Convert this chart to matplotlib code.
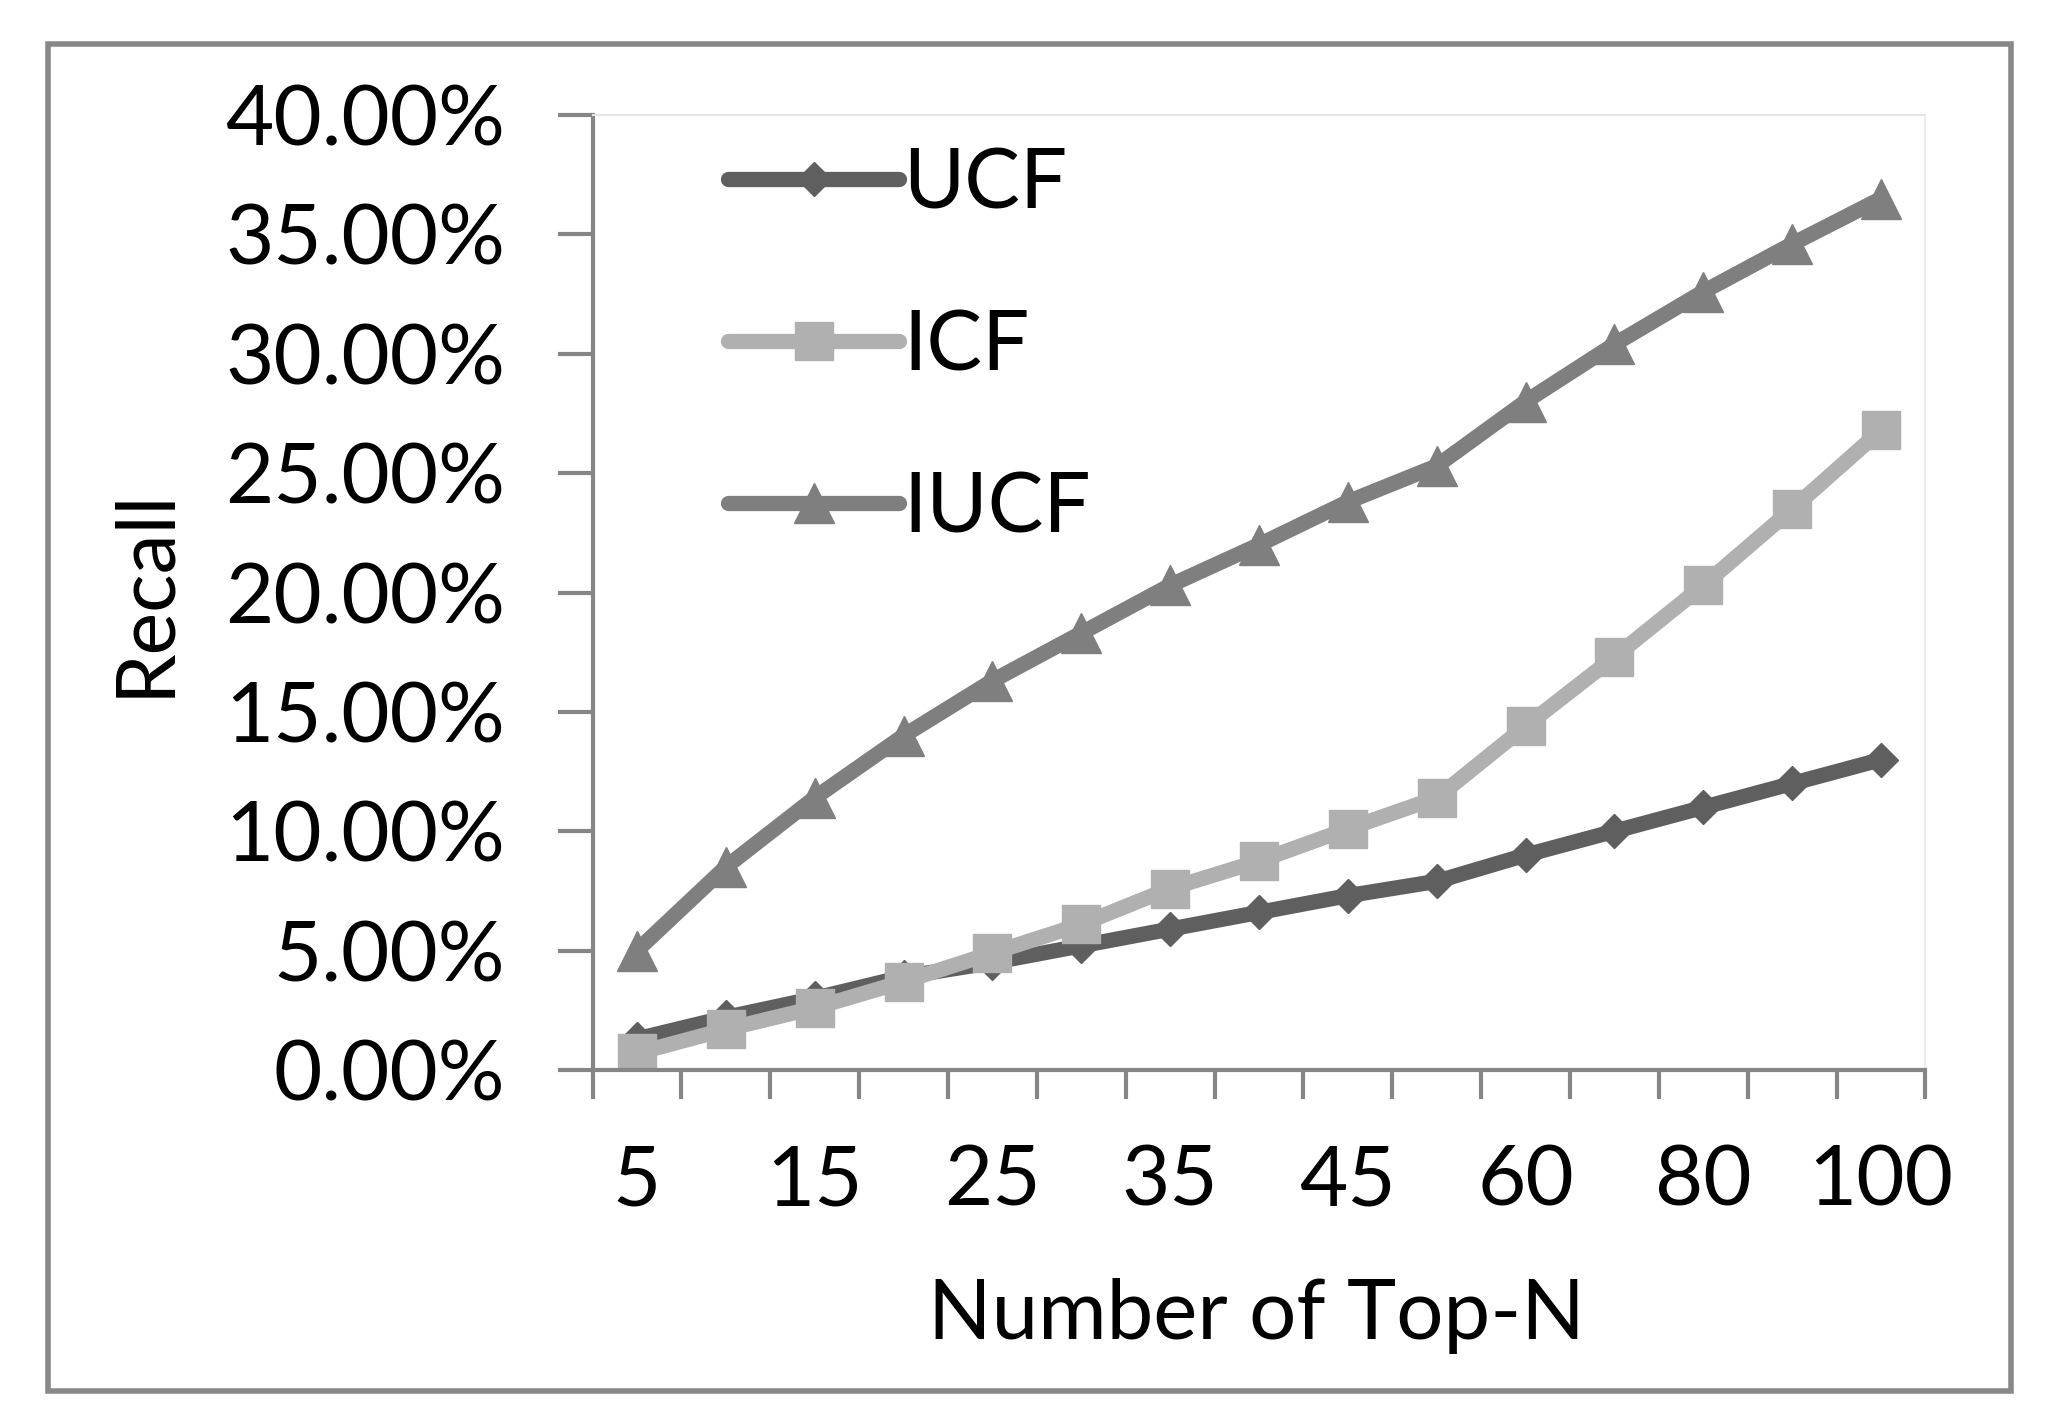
import matplotlib
matplotlib.use("Agg")
import matplotlib.pyplot as plt
from matplotlib.patches import Rectangle
from matplotlib.ticker import FuncFormatter, FixedLocator
import numpy as np

categories = [5, 10, 15, 20, 25, 30, 35, 40, 45, 50, 60, 70, 80, 90, 100]
ucf = [1.3, 2.2, 3.0, 3.9, 4.5, 5.2, 5.9, 6.6, 7.3, 7.9, 9.0, 10.0, 11.0, 12.0, 13.0]
icf = [0.7, 1.7, 2.6, 3.7, 4.9, 6.1, 7.6, 8.75, 10.1, 11.4, 14.4, 17.3, 20.3, 23.5, 26.8]
iucf = [5.0, 8.5, 11.4, 14.0, 16.3, 18.3, 20.3, 22.0, 23.8, 25.3, 28.0, 30.4, 32.6, 34.6, 36.5]
shown_labels = ["5", "", "15", "", "25", "", "35", "", "45", "", "60", "", "80", "", "100"]

plt.rcParams['font.family'] = ['Lato', 'DejaVu Sans']

fig = plt.figure(figsize=(20.51, 14.19), dpi=100)
ax = fig.add_axes([0.2889, 0.246, 0.9388 - 0.2889, 0.9189 - 0.246])

x = np.arange(len(categories))
ax.plot(x, np.array(ucf) / 100, color='#5f5f5f', lw=11, marker='D', ms=17, label='UCF', solid_capstyle='round')
ax.plot(x, np.array(icf) / 100, color='#b0b0b0', lw=11, marker='s', ms=28, label='ICF', solid_capstyle='round')
ax.plot(x, np.array(iucf) / 100, color='#7f7f7f', lw=11, marker='^', ms=29, label='IUCF', solid_capstyle='round')

ax.set_xlim(-0.5, len(categories) - 0.5)
ax.set_ylim(0, 0.40)
ax.set_yticks(np.arange(0, 0.4001, 0.05))
ax.yaxis.set_major_formatter(FuncFormatter(lambda v, p: f"{v*100:.2f}%"))

ax.xaxis.set_major_locator(FixedLocator(np.arange(-0.5, len(categories), 1.0)))
ax.xaxis.set_major_formatter(FuncFormatter(lambda v, p: ""))
ax.xaxis.set_minor_locator(FixedLocator(x))
ax.set_xticklabels(shown_labels, minor=True)

axis_col = '#868686'
ax.spines['top'].set_color('#e6e6e6')
ax.spines['top'].set_linewidth(1.5)
ax.spines['right'].set_color('#ececec')
ax.spines['right'].set_linewidth(1.5)
ax.spines['left'].set_color(axis_col)
ax.spines['bottom'].set_color(axis_col)
ax.spines['left'].set_linewidth(3)
ax.spines['bottom'].set_linewidth(3)

ax.tick_params(axis='y', which='major', direction='out', length=25, width=3, color=axis_col,
               labelsize=60, pad=38, labelcolor='black')
ax.tick_params(axis='x', which='major', direction='out', length=21, width=3, color=axis_col)
ax.tick_params(axis='x', which='minor', length=0, labelsize=60, pad=54, labelcolor='black')

ax.set_ylabel('Recall', fontsize=58, color='black')
ax.yaxis.set_label_coords(-0.308, 0.5)
ax.set_xlabel('Number of Top-N', fontsize=60, color='black')
ax.xaxis.set_label_coords(0.498, -0.218)

leg = ax.legend(loc='upper left', bbox_to_anchor=(0.102, 0.966), frameon=False, fontsize=60,
                handlelength=2.05, handletextpad=0.05, labelspacing=1.03, borderaxespad=0,
                borderpad=0)

fig.patches.append(Rectangle((0.0232, 0.0196), 0.9807 - 0.0232, 0.9692 - 0.0196,
                             transform=fig.transFigure, fill=False, edgecolor='#888888', lw=4))

fig.savefig('out.png', dpi=100)
